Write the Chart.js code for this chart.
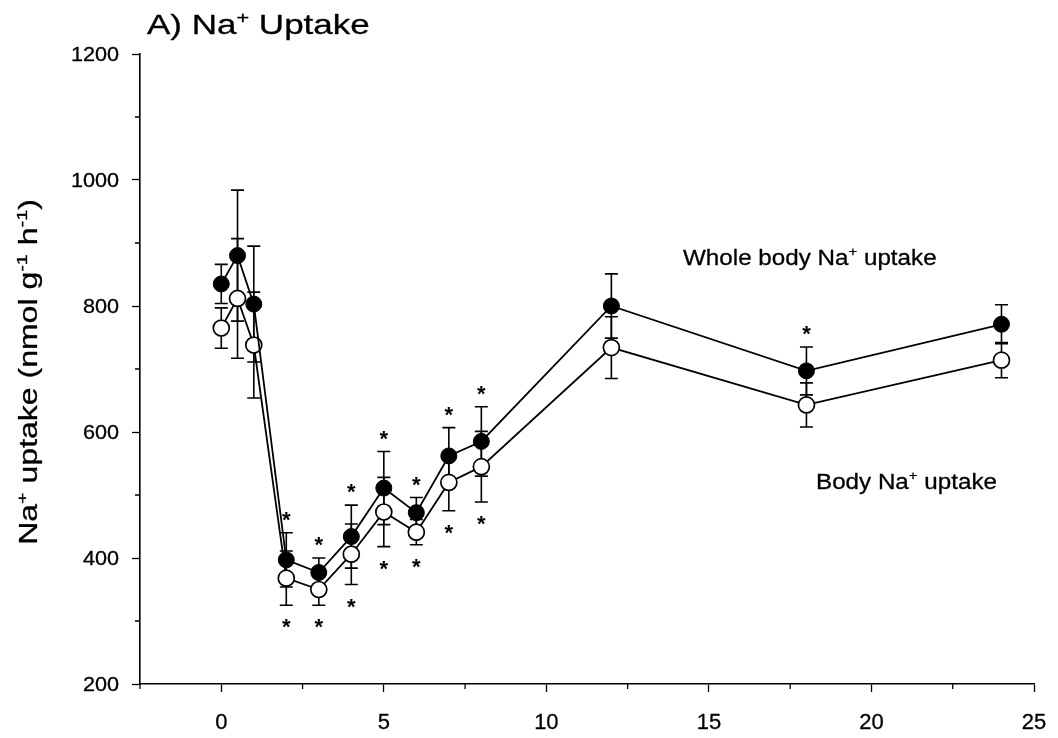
<!DOCTYPE html>
<html>
<head>
<meta charset="utf-8">
<script src="https://cdn.jsdelivr.net/npm/chart.js@4.4.0/dist/chart.umd.min.js"></script>
<style>
  html, body { margin: 0; padding: 0; background: #fff; }
  #wrap { width: 1058px; height: 738px; position: relative; }
</style>
</head>
<body>
<div id="wrap"><canvas id="chart" width="1058" height="738"></canvas></div>
<script>
// Sampling times (h)
const hours = [0, 0.5, 1, 2, 3, 4, 5, 6, 7, 8, 12, 18, 24];

// Whole body Na+ uptake (nmol g-1 h-1), mean and SE
const wholeBody   = [835, 880, 803, 397, 377, 434, 511, 472, 562, 585, 800, 697, 771];
const wholeBodySE = [31, 104, 92, 43, 23, 50, 58, 24, 45, 55, 51, 38, 31];

// Body Na+ uptake (nmol g-1 h-1), mean and SE
const bodyUptake  = [765, 812, 738, 368, 350, 406, 473, 441, 520, 545, 734, 643, 714];
const bodySE      = [32, 95, 84, 43, 25, 48, 55, 20, 45, 56, 49, 35, 28];

// Significant difference from control (asterisks)
const wholeBodySig = [false, false, false, true, true, true, true, true, true, true, false, true, false];
const bodySig      = [false, false, false, true, true, true, true, true, true, true, false, false, false];

// Axis tick labels and minor ticks
const xTickLabels = ['0', '5', '10', '15', '20', '25'];
const yTickLabels = ['200', '400', '600', '800', '1000', '1200'];
const xMinorTicks = [-2.5, 2.5, 7.5, 12.5, 17.5, 22.5];
const yMinorTicks = [300, 500, 700, 900, 1100];

const FONT = '"Liberation Sans", Arial, Helvetica, sans-serif';

// Text made of runs; superscript runs are smaller and raised
function runsWidth(ctx, runs, size) {
  let w = 0;
  for (const r of runs) {
    ctx.font = (r.sup ? size * 0.62 : size) + 'px ' + FONT;
    w += ctx.measureText(r.t).width;
  }
  return w;
}
function drawRuns(ctx, runs, opt) {
  const { x, y, size, stretch = 1, align = 'left', rotate = false } = opt;
  ctx.save();
  ctx.translate(x, y);
  if (rotate) ctx.rotate(-Math.PI / 2);
  ctx.scale(stretch, 1);
  ctx.fillStyle = '#000';
  ctx.strokeStyle = '#000';
  ctx.lineWidth = 0.3;
  ctx.lineJoin = 'round';
  ctx.textBaseline = 'alphabetic';
  ctx.textAlign = 'left';
  const w = runsWidth(ctx, runs, size);
  let cx = align === 'left' ? 0 : align === 'center' ? -w / 2 : -w;
  for (const r of runs) {
    const fs = r.sup ? size * 0.62 : size;
    ctx.font = fs + 'px ' + FONT;
    const ty = r.sup ? -size * 0.4 : 0;
    ctx.fillText(r.t, cx, ty);
    ctx.strokeText(r.t, cx, ty);
    cx += ctx.measureText(r.t).width;
  }
  ctx.restore();
}

const titleRuns  = [{ t: 'A) Na' }, { t: '+', sup: true }, { t: ' Uptake' }];
const yTitleRuns = [{ t: 'Na' }, { t: '+', sup: true }, { t: ' uptake (nmol g' }, { t: '-1', sup: true },
                    { t: ' h' }, { t: '-1', sup: true }, { t: ')' }];
const wholeLabelRuns = [{ t: 'Whole body Na' }, { t: '+', sup: true }, { t: ' uptake' }];
const bodyLabelRuns  = [{ t: 'Body Na' }, { t: '+', sup: true }, { t: ' uptake' }];

// Vertical SE bars with caps, drawn beneath the markers
const errorBars = {
  id: 'errorBars',
  beforeDatasetsDraw(chart) {
    const { ctx, scales: { x, y } } = chart;
    const series = [[wholeBody, wholeBodySE], [bodyUptake, bodySE]];
    ctx.save();
    ctx.strokeStyle = '#000';
    ctx.lineWidth = 1.6;
    for (const [means, se] of series) {
      means.forEach((m, i) => {
        const px = x.getPixelForValue(hours[i]);
        const top = y.getPixelForValue(m + se[i]);
        const bot = y.getPixelForValue(m - se[i]);
        ctx.beginPath();
        ctx.moveTo(px, top); ctx.lineTo(px, bot);
        ctx.moveTo(px - 6.5, top); ctx.lineTo(px + 6.5, top);
        ctx.moveTo(px - 6.5, bot); ctx.lineTo(px + 6.5, bot);
        ctx.stroke();
      });
    }
    ctx.restore();
  }
};

// Asterisks, tick labels, minor ticks, titles and series labels
const annotations = {
  id: 'annotations',
  afterDraw(chart) {
    const { ctx, scales: { x, y } } = chart;
    const starSize = 22;
    const drawStar = (px, cy) => {
      ctx.save();
      ctx.font = 'bold ' + starSize + 'px ' + FONT;
      ctx.textAlign = 'center';
      ctx.textBaseline = 'alphabetic';
      ctx.fillStyle = '#000';
      ctx.fillText('*', px, cy + starSize * 0.6);
      ctx.restore();
    };
    hours.forEach((h, i) => {
      const px = x.getPixelForValue(h);
      if (wholeBodySig[i]) drawStar(px, y.getPixelForValue(wholeBody[i] + wholeBodySE[i]) - 19);
      if (bodySig[i]) drawStar(px, y.getPixelForValue(bodyUptake[i] - bodySE[i]) + 16);
    });

    // minor ticks
    ctx.save();
    ctx.strokeStyle = '#000';
    ctx.lineWidth = 1.3;
    ctx.beginPath();
    for (const v of xMinorTicks) {
      const px = x.getPixelForValue(v);
      ctx.moveTo(px, x.top); ctx.lineTo(px, x.top + 5);
    }
    for (const v of yMinorTicks) {
      const py = y.getPixelForValue(v);
      ctx.moveTo(y.right, py); ctx.lineTo(y.right - 5, py);
    }
    ctx.stroke();
    ctx.restore();

    // tick labels
    for (const lab of yTickLabels) {
      const py = y.getPixelForValue(Number(lab));
      drawRuns(ctx, [{ t: lab }], { x: y.right - 21, y: py + 20 * 0.36, size: 20, stretch: 1.08, align: 'right' });
    }
    for (const lab of xTickLabels) {
      const px = x.getPixelForValue(Number(lab));
      drawRuns(ctx, [{ t: lab }], { x: px, y: x.top + 45, size: 22, stretch: 1.0, align: 'center' });
    }

    // titles and series labels
    drawRuns(ctx, titleRuns, { x: 147, y: 34, size: 28, stretch: 1.25 });
    drawRuns(ctx, yTitleRuns, { x: 37, y: 372, size: 25, stretch: 1.28, align: 'center', rotate: true });
    drawRuns(ctx, wholeLabelRuns, { x: 683, y: 265, size: 22, stretch: 1.1 });
    drawRuns(ctx, bodyLabelRuns, { x: 816, y: 489, size: 22, stretch: 1.1 });
  }
};

const toPoints = (vals) => hours.map((h, i) => ({ x: h, y: vals[i] }));

new Chart(document.getElementById('chart'), {
  type: 'line',
  data: {
    datasets: [
      {
        label: 'Whole body Na+ uptake',
        data: toPoints(wholeBody),
        borderColor: '#000',
        borderWidth: 1.8,
        pointRadius: 8,
        pointBackgroundColor: '#000',
        pointBorderColor: '#000',
        pointBorderWidth: 1,
        tension: 0,
        fill: false
      },
      {
        label: 'Body Na+ uptake',
        data: toPoints(bodyUptake),
        borderColor: '#000',
        borderWidth: 1.8,
        pointRadius: 8,
        pointBackgroundColor: '#fff',
        pointBorderColor: '#000',
        pointBorderWidth: 1.7,
        tension: 0,
        fill: false
      }
    ]
  },
  options: {
    responsive: false,
    animation: false,
    devicePixelRatio: 1,
    layout: { padding: { top: 54, right: 24, left: 0, bottom: 0 } },
    plugins: { legend: { display: false }, tooltip: { enabled: false }, title: { display: false } },
    scales: {
      x: {
        type: 'linear',
        min: -2.5,
        max: 25,
        ticks: { display: false, stepSize: 5, includeBounds: false },
        grid: { drawOnChartArea: false, drawTicks: true, tickLength: 8, tickColor: '#000', tickWidth: 1.3 },
        border: { display: true, color: '#000', width: 1.6 },
        afterFit(s) { s.height = 54; }
      },
      y: {
        type: 'linear',
        min: 200,
        max: 1200,
        ticks: { display: false, stepSize: 200 },
        grid: { drawOnChartArea: false, drawTicks: true, tickLength: 8, tickColor: '#000', tickWidth: 1.3 },
        border: { display: true, color: '#000', width: 1.6 },
        afterFit(s) { s.width = 140; }
      }
    }
  },
  plugins: [errorBars, annotations]
});
</script>
</body>
</html>
